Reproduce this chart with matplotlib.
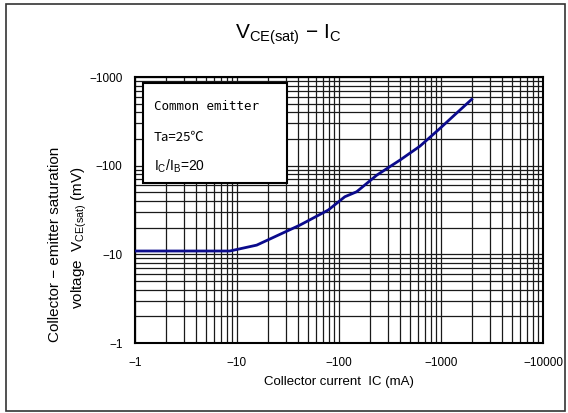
import matplotlib
matplotlib.use("Agg")
import matplotlib.pyplot as plt
from matplotlib.ticker import FixedLocator, FuncFormatter, NullFormatter
from matplotlib.patches import Rectangle

# Data (magnitudes; axis labels show negative values)
ic_ma = [1, 8.5, 15.6, 41.5, 78.5, 114, 149, 234, 398, 622, 980, 1320, 2000]
vce_mv = [10.9, 10.9, 12.7, 21.4, 31.6, 44.6, 50.8, 78, 116, 166, 264, 362, 560]
x_ticks = [1, 10, 100, 1000, 10000]
y_ticks = [1, 10, 100, 1000]

plt.rcParams["font.family"] = ["Liberation Sans", "DejaVu Sans"]
plt.rcParams["mathtext.fontset"] = "custom"
plt.rcParams["mathtext.rm"] = "Liberation Sans"

fig = plt.figure(figsize=(5.68, 4.13), dpi=100)
ax = fig.add_axes([135/568, 1-343/413, 408/568, 266/413])

ax.plot(ic_ma, vce_mv, color="#0a0a8c", lw=2.0, zorder=5)
ax.set_xscale("log")
ax.set_yscale("log")
ax.set_xlim(1, 10000)
ax.set_ylim(1, 1000)

minor_x = [m * 10**d for d in range(4) for m in range(2, 10)]
minor_y = [m * 10**d for d in range(3) for m in range(2, 10)]
ax.xaxis.set_major_locator(FixedLocator(x_ticks))
ax.yaxis.set_major_locator(FixedLocator(y_ticks))
ax.xaxis.set_minor_locator(FixedLocator(minor_x))
ax.yaxis.set_minor_locator(FixedLocator(minor_y))
fmt = FuncFormatter(lambda v, p: "\u2212%d" % round(v))
ax.xaxis.set_major_formatter(fmt)
ax.yaxis.set_major_formatter(fmt)
ax.xaxis.set_minor_formatter(NullFormatter())
ax.yaxis.set_minor_formatter(NullFormatter())
ax.grid(True, which="both", color="#1a1a1a", lw=0.9)
ax.tick_params(which="both", length=0)
ax.tick_params(axis="x", pad=10, labelsize=8.5)
ax.tick_params(axis="y", pad=9, labelsize=8.5)
for s in ax.spines.values():
    s.set_linewidth(1.5)
    s.set_color("black")

ax.set_xlabel("Collector current  IC (mA)", fontsize=9.5, labelpad=5)

fig.text(55/568, 1-244/413, "Collector \u2212 emitter saturation",
         rotation=90, ha="center", va="center", fontsize=11)
fig.text(79/568, 1-238/413, r"voltage  V$_{\mathregular{CE(sat)}}$ (mV)",
         rotation=90, ha="center", va="center", fontsize=11)

fig.text(288/568, 1-38/413, r"V$_{\mathregular{CE(sat)}}$ $-$ I$_{\mathregular{C}}$",
         ha="center", va="baseline", fontsize=15)

# Condition box
box = Rectangle((143/568, 1-183/413), 144/568, 100/413, transform=fig.transFigure,
                facecolor="white", edgecolor="black", lw=1.5, zorder=10)
fig.add_artist(box)
fig.text(154/568, 1-106/413, "Common emitter", family="DejaVu Sans Mono",
         fontsize=9, va="center", zorder=11)
fig.text(154/568, 1-137/413, "Ta=25\u2103", family=["Noto Sans CJK JP", "DejaVu Sans"],
         fontsize=9.5, va="center", zorder=11)
fig.text(154/568, 1-166/413, r"I$_{\mathregular{C}}$/I$_{\mathregular{B}}$=20",
         fontsize=10, va="center", zorder=11)

# Outer frame
frame = Rectangle((6/568, 1-411/413), 559/568, 407/413, transform=fig.transFigure,
                  facecolor="none", edgecolor="#333333", lw=1.2)
fig.add_artist(frame)

fig.savefig("out.png", dpi=100)
